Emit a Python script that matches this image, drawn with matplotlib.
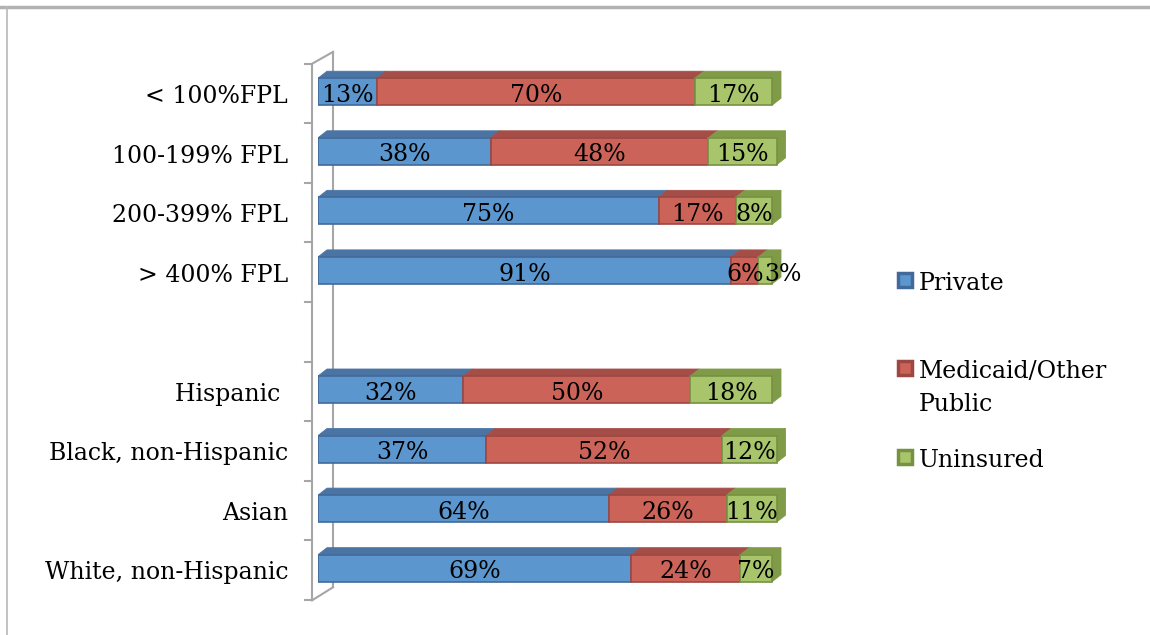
import matplotlib.pyplot as plt
from matplotlib.patches import Polygon, Rectangle
from matplotlib.lines import Line2D

# categories top to bottom ("" is the empty gap row)
categories = ["< 100%FPL", "100-199% FPL", "200-399% FPL", "> 400% FPL", "",
              "Hispanic ", "Black, non-Hispanic", "Asian", "White, non-Hispanic"]
private = [13, 38, 75, 91, None, 32, 37, 64, 69]
medicaid = [70, 48, 17, 6, None, 50, 52, 26, 24]
uninsured = [17, 15, 8, 3, None, 18, 12, 11, 7]
series_names = ["Private", "Medicaid/Other\nPublic", "Uninsured"]

front = ["#5b97ce", "#cc6359", "#a8c56b"]
top = ["#4a74a4", "#a54e48", "#7f9b48"]
edge = ["#43699a", "#9c4741", "#769142"]

plt.rcParams['font.family'] = ['DejaVu Serif']
fs = 17

fig = plt.figure(figsize=(11.5, 6.35), dpi=100)
W, H = 1150, 635
# x: 0..100 -> px 318..772 ; rows: centers 92..568 px
ax = fig.add_axes([318 / W, 1 - 598 / H, 4.54 * 110 / W, 536 / H])
ax.set_xlim(0, 110)
ax.set_ylim(8.5, -0.5)
ax.axis("off")

bh = 0.454   # front face height (rows)
dx = 1.98    # depth in x (percent units)
dy = 0.118   # depth in y (rows)

for i, cat in enumerate(categories):
    if private[i] is None:
        continue
    vals = [private[i], medicaid[i], uninsured[i]]
    left = 0
    for k, v in enumerate(vals):
        y0 = i - bh / 2
        ax.barh(i, v, left=left, height=bh, color=front[k], edgecolor=edge[k],
                linewidth=1.2, zorder=3)
        ax.add_patch(Polygon([(left, y0), (left + v, y0), (left + v + dx, y0 - dy),
                              (left + dx, y0 - dy)], closed=True,
                             facecolor=top[k], edgecolor=top[k], lw=0.6, zorder=2))
        if k == 2:
            r = left + v
            ax.add_patch(Polygon([(r, y0), (r + dx, y0 - dy), (r + dx, y0 + bh - dy),
                                  (r, y0 + bh)], closed=True,
                                 facecolor=top[k], edgecolor=top[k], lw=0.6,
                                 zorder=2))
        cx = left + v / 2
        if v < 5 and k == 2:
            cx += 4
        ax.text(cx, i + 0.06, f"{v}%", ha="center", va="center", fontsize=fs,
                color="black", zorder=5, clip_on=False)
        left += v
    ax.text(-6.6, i + 0.08, cat, ha="right", va="center", fontsize=fs, color="black")

# 3-D side wall of the category axis
wall = "#a6a6a6"
xf, xb = -1.32, 3.3
ax.plot([xf, xf], [-0.47, 8.54], color=wall, lw=1.5, clip_on=False, zorder=1)
ax.plot([xb, xb], [-0.67, 8.32], color=wall, lw=1.5, clip_on=False, zorder=1)
ax.plot([xf, xb], [-0.47, -0.67], color=wall, lw=1.5, clip_on=False, zorder=1)
ax.plot([xf, xb], [8.54, 8.32], color=wall, lw=1.5, clip_on=False, zorder=1)
for k in range(len(categories) + 1):
    ax.plot([-2.86, xf], [k - 0.47, k - 0.47], color=wall, lw=1.5, clip_on=False)

# legend
leg_y = [280, 368, 457]
for k, name in enumerate(series_names):
    yc = leg_y[k]
    fig.add_artist(Rectangle((898 / W, 1 - (yc + 7) / H), 14 / W, 14 / H,
                             facecolor=front[k], edgecolor=edge[k], lw=2.5))
    fig.text(919 / W, 1 - (yc - 8) / H, name, ha="left", va="top",
             fontsize=fs, linespacing=1.55)

# chart frame
fig.add_artist(Line2D([0, 1], [1 - 7 / H, 1 - 7 / H], color="#b2b2b2", lw=2.5))
fig.add_artist(Line2D([7 / W, 7 / W], [0, 1 - 7 / H], color="#b8b8b8", lw=1.2))

fig.savefig("out.png", dpi=100)
